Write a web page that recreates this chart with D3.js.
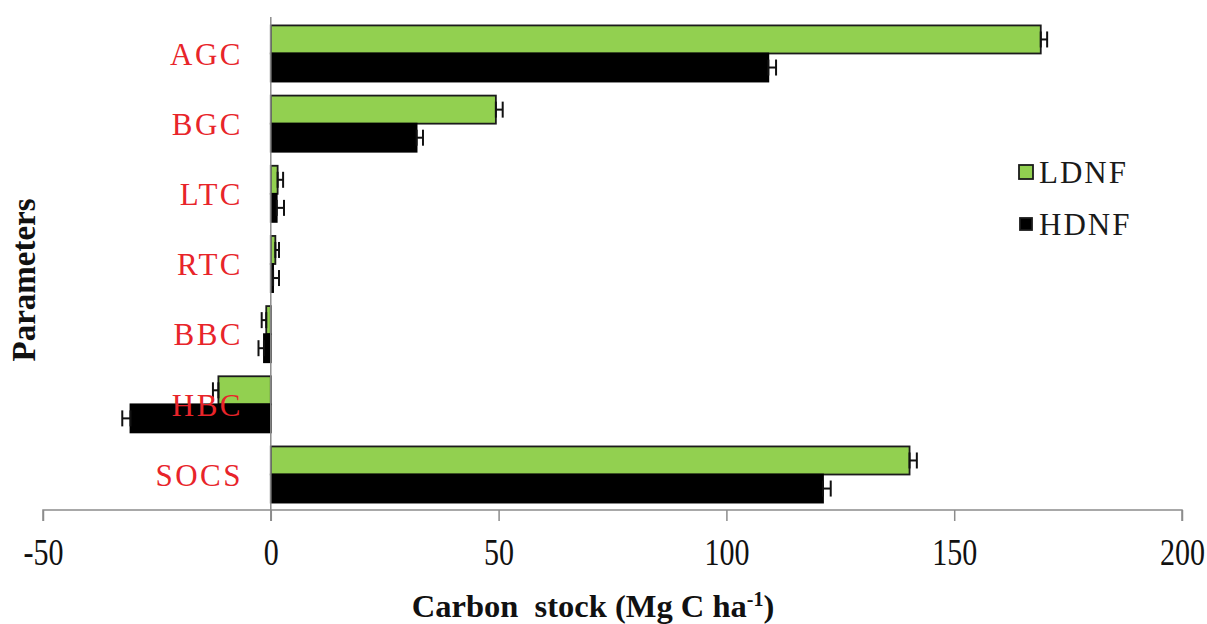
<!DOCTYPE html>
<html>
<head>
<meta charset="utf-8">
<script src="https://cdn.jsdelivr.net/npm/d3@7"></script>
<style>
  html, body { margin: 0; padding: 0; background: #fff; }
  svg { display: block; }
</style>
</head>
<body>
<svg id="chart" width="1207" height="624"></svg>
<script>
// Carbon stock by pool for two forest types (Mg C ha-1)
const categories = ["AGC", "BGC", "LTC", "RTC", "BBC", "HBC", "SOCS"];
const seriesNames = ["LDNF", "HDNF"];
const ldnfValues = [169, 49.4, 1.5, 1.0, -1.0, -11.5, 140.2];
const ldnfErrors = [1.4, 1.5, 1.2, 0.8, 1.0, 1.2, 1.6];
const hdnfValues = [109.2, 32.0, 1.3, 0.5, -1.5, -30.8, 121.2];
const hdnfErrors = [1.7, 1.4, 1.6, 1.3, 1.2, 1.8, 1.7];
const xTicks = [-50, 0, 50, 100, 150, 200];

const seriesValues = { LDNF: ldnfValues, HDNF: hdnfValues };
const seriesErrors = { LDNF: ldnfErrors, HDNF: hdnfErrors };
const fills = { LDNF: "#92d050", HDNF: "#000000" };
const strokes = { LDNF: "#1b1b1b", HDNF: "#000000" };

const svg = d3.select("#chart");

const x = d3.scaleLinear().domain([-50, 200]).range([43, 1182]);
const y = d3.scaleBand().domain(categories).range([17, 511])
  .paddingInner(0.2).paddingOuter(0.12);
const sub = d3.scaleBand().domain(seriesNames).range([0, y.bandwidth()]);

const rows = [];
categories.forEach((c, i) => {
  seriesNames.forEach(s => {
    rows.push({ cat: c, series: s, value: seriesValues[s][i], err: seriesErrors[s][i] });
  });
});

// x axis
const axisY = 510;
const xAxis = d3.axisBottom(x).tickValues(xTicks).tickSize(11);
const gx = svg.append("g").attr("transform", `translate(0,${axisY})`).call(xAxis);
gx.select(".domain").attr("stroke", "#8c8c8c").attr("stroke-width", 1.5)
  .attr("d", `M${x(-50)},11V0H${x(200)}V11`);
gx.selectAll(".tick line").attr("stroke", "#8c8c8c").attr("stroke-width", 1.5);
gx.selectAll(".tick text").remove();
gx.selectAll(".tick").append("text")
  .attr("transform", "translate(0,55) scale(0.79,1)")
  .attr("text-anchor", "middle")
  .attr("fill", "#111")
  .style("font-family", "'Liberation Serif', 'Times New Roman', serif")
  .style("font-size", "38px")
  .text(d => String(d));

// bars
const bars = svg.append("g");
bars.selectAll("rect").data(rows).join("rect")
  .attr("x", d => x(Math.min(0, d.value)))
  .attr("y", d => y(d.cat) + sub(d.series))
  .attr("width", d => Math.abs(x(d.value) - x(0)))
  .attr("height", sub.bandwidth())
  .attr("fill", d => fills[d.series])
  .attr("stroke", d => strokes[d.series])
  .attr("stroke-width", 1.8);

// error bars extend away from zero
const capH = 16;
const eb = svg.append("g").attr("stroke", "#111").attr("stroke-width", 2);
rows.forEach(d => {
  const dir = d.value < 0 ? -1 : 1;
  const cy = y(d.cat) + sub(d.series) + sub.bandwidth() / 2;
  const x0 = x(d.value), x1 = x(d.value + dir * d.err);
  eb.append("line").attr("x1", x0).attr("x2", x1).attr("y1", cy).attr("y2", cy);
  eb.append("line").attr("x1", x0).attr("x2", x0).attr("y1", cy - capH / 2).attr("y2", cy + capH / 2);
  eb.append("line").attr("x1", x1).attr("x2", x1).attr("y1", cy - capH / 2).attr("y2", cy + capH / 2);
});

// vertical axis at zero
svg.append("line")
  .attr("x1", x(0)).attr("x2", x(0))
  .attr("y1", 17).attr("y2", axisY + 11)
  .attr("stroke", "#8c8c8c").attr("stroke-width", 1.5);

// category labels (drawn above the bars)
svg.append("g").selectAll("text").data(categories).join("text")
  .attr("x", 243)
  .attr("y", d => y(d) + y.bandwidth() / 2)
  .attr("dy", "0.36em")
  .attr("text-anchor", "end")
  .attr("fill", "#e8242a")
  .style("font-family", "'Liberation Serif', 'Times New Roman', serif")
  .style("font-size", "31px")
  .style("letter-spacing", "2.5px")
  .text(d => d);

// legend
const legend = svg.append("g");
const legendItems = [
  { name: "LDNF", sx: 1019, sy: 165, size: 14, ty: 183 },
  { name: "HDNF", sx: 1020, sy: 218, size: 12, ty: 235 }
];
legendItems.forEach(it => {
  legend.append("rect")
    .attr("x", it.sx).attr("y", it.sy)
    .attr("width", it.size).attr("height", it.size)
    .attr("fill", fills[it.name])
    .attr("stroke", "#1b1b1b").attr("stroke-width", 1.8);
  legend.append("text")
    .attr("x", 1039).attr("y", it.ty)
    .attr("fill", "#1a1a1a")
    .style("font-family", "'Liberation Serif', 'Times New Roman', serif")
    .style("font-size", "31px")
    .style("letter-spacing", "2px")
    .text(it.name);
});

// axis titles
const xTitle = svg.append("text")
  .attr("x", 593).attr("y", 617)
  .attr("text-anchor", "middle")
  .attr("fill", "#111")
  .style("font-family", "'Liberation Serif', 'Times New Roman', serif")
  .style("font-size", "32.5px")
  .style("font-weight", "bold");
xTitle.append("tspan").text("Carbon\u00a0 stock (Mg C ha");
xTitle.append("tspan").attr("dy", -11).style("font-size", "20px").text("-1");
xTitle.append("tspan").attr("dy", 11).text(")");

svg.append("text")
  .attr("transform", "translate(35,280) rotate(-90)")
  .attr("text-anchor", "middle")
  .attr("fill", "#111")
  .style("font-family", "'Liberation Serif', 'Times New Roman', serif")
  .style("font-size", "33px")
  .style("font-weight", "bold")
  .text("Parameters");
</script>
</body>
</html>
